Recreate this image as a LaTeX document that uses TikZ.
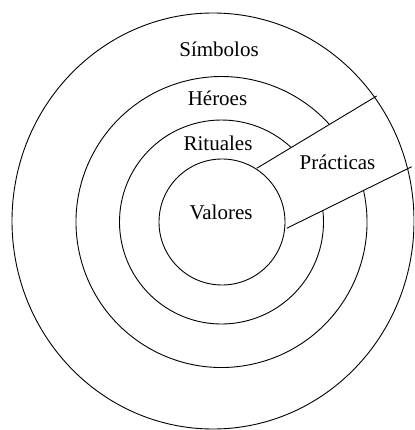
\documentclass[tikz,border=0pt]{standalone}
\usepackage{fontspec}
\setmainfont{Liberation Serif}
\usepackage{tikz}
\tikzset{
	ring/.style ={draw=black, line width=0.9pt},
	divider/.style={draw=black, line width=0.9pt},
	lbl/.style  ={anchor=base, inner sep=0pt, font=\fontsize{21}{25}\selectfont},
}

\begin{document}
\begin{tikzpicture}[x=1pt, y=-1pt]
	\useasboundingbox (0,0) rectangle (414,430);
	\clip (0,0) rectangle (414,430);
	\coordinate (c) at (221.5,222);
	% circles
	\draw[ring] (213,221) ellipse [x radius=201, y radius=208];
	\draw[ring] (c) ++(-12.5:145.5) arc[start angle=-12.5, end angle=317.9, radius=145.5];
	\draw[ring] (c) ++(-6.5:102) arc[start angle=-6.5, end angle=313.1, radius=102];
	\draw[ring] (222,222) circle (63);
	% the wedge
	\coordinate (u1) at (256.7,168.3);
	\coordinate (u2) at (376.7,96);
	\coordinate (l1) at (286.7,228.3);
	\coordinate (l2) at (411.7,166.7);
	\draw[divider] (u1) -- (u2);
	\draw[divider] (l1) -- (l2);
	\node[lbl] (simbolos)  at (219,57)    {Símbolos};
	\node[lbl] (heroes)    at (217.5,106) {Héroes};
	\node[lbl] (rituales)  at (218,150.5) {Rituales};
	\node[lbl] (valores)   at (221,219)   {Valores};
	\node[lbl] (practicas) at (337.5,170) {Prácticas};
\end{tikzpicture}
\end{document}
